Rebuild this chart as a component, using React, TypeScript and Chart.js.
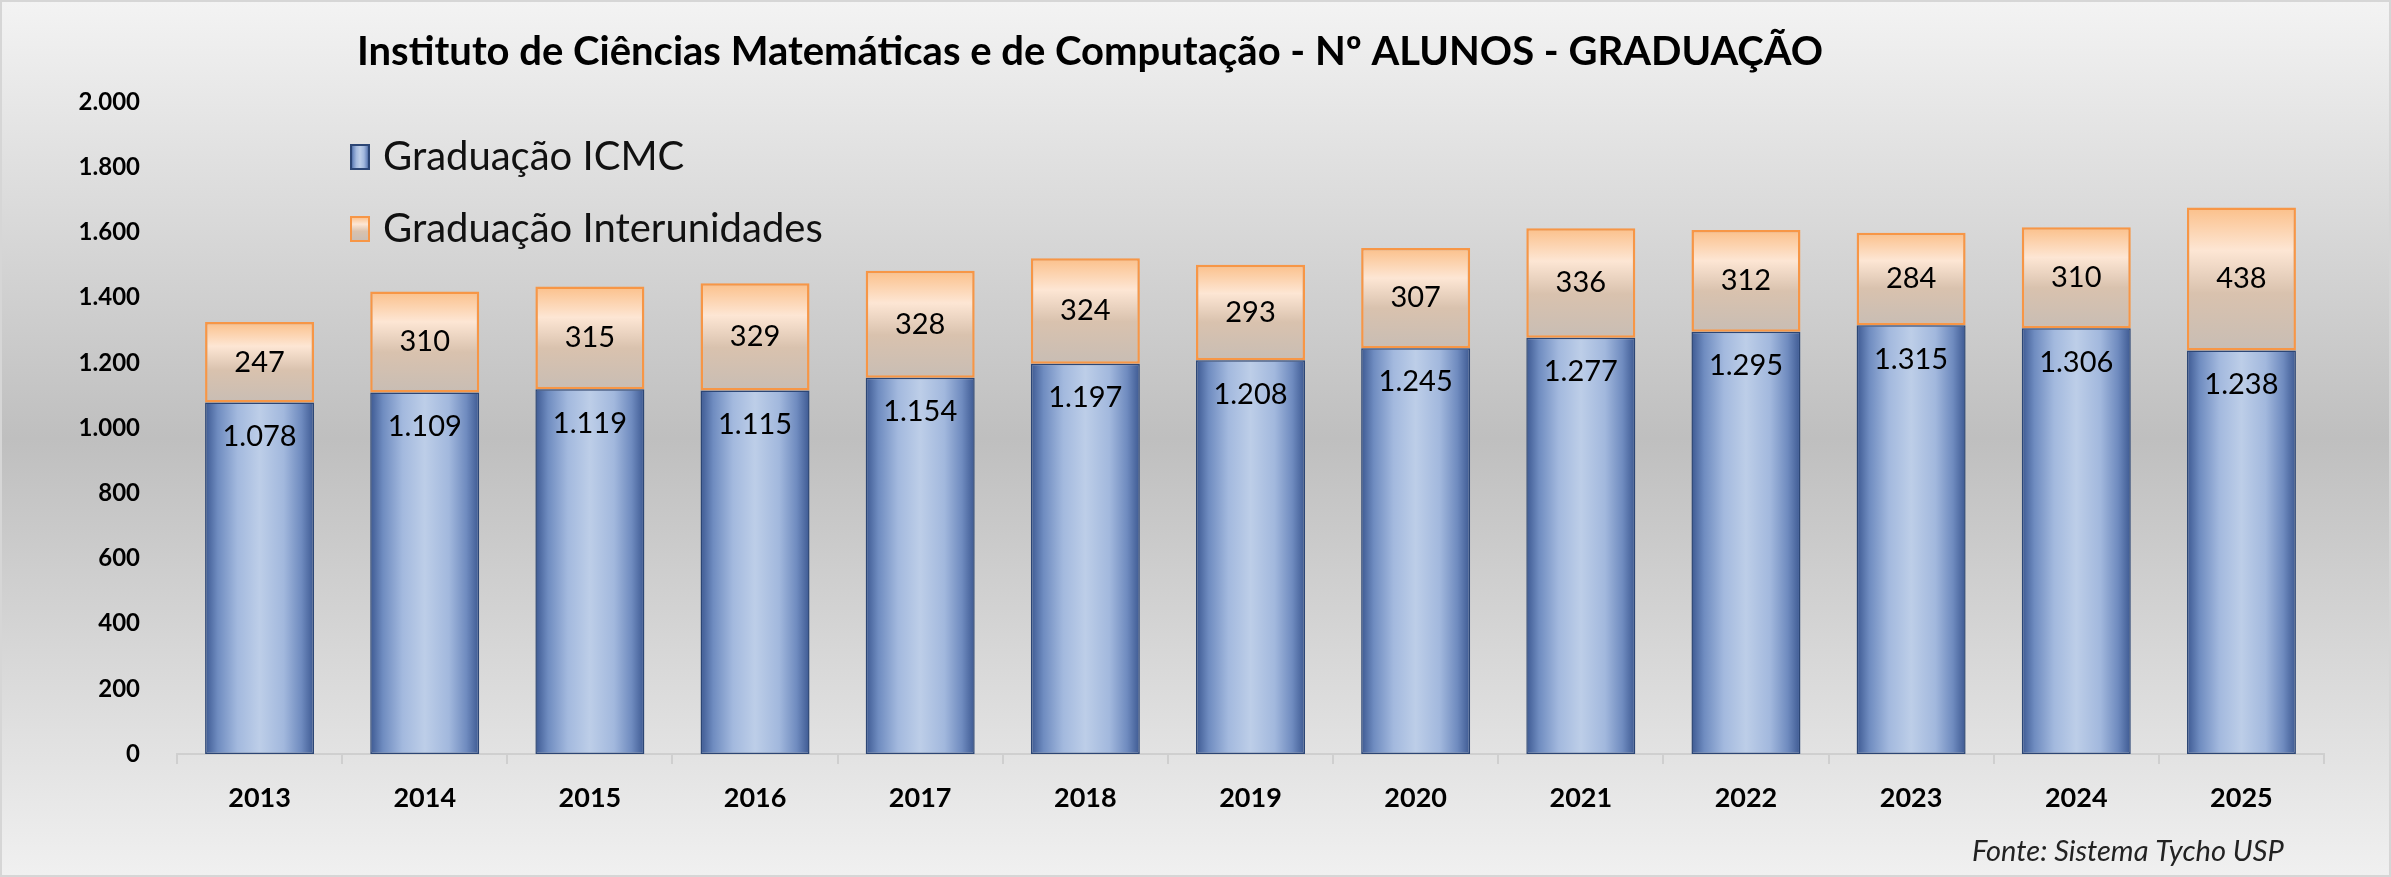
import { useEffect, useRef } from 'react';
import { Chart, registerables } from 'chart.js';

Chart.register(...registerables);

const years = ['2013', '2014', '2015', '2016', '2017', '2018', '2019', '2020', '2021', '2022', '2023', '2024', '2025'];
const icmc = [1078, 1109, 1119, 1115, 1154, 1197, 1208, 1245, 1277, 1295, 1315, 1306, 1238];
const interunidades = [247, 310, 315, 329, 328, 324, 293, 307, 336, 312, 284, 310, 438];
const yTicks = [0, 200, 400, 600, 800, 1000, 1200, 1400, 1600, 1800, 2000];

const FONT = 'Lato, "Open Sans", sans-serif';
const TITLE = 'Instituto de Ciências Matemáticas e de Computação - Nº ALUNOS - GRADUAÇÃO';
const SOURCE = 'Fonte: Sistema Tycho USP';

const fmt = (v: number) => String(v).replace(/\B(?=(\d{3})+(?!\d))/g, '.');

function blueGradient(ctx: CanvasRenderingContext2D, x0: number, x1: number) {
  const g = ctx.createLinearGradient(x0, 0, x1, 0);
  g.addColorStop(0, '#3b5790');
  g.addColorStop(0.12, '#6f8cc0');
  g.addColorStop(0.3, '#a3b9de');
  g.addColorStop(0.5, '#bdcee8');
  g.addColorStop(0.72, '#a2b8dd');
  g.addColorStop(0.88, '#6f8bbf');
  g.addColorStop(1, '#3b5790');
  return g;
}

function orangeGradient(ctx: CanvasRenderingContext2D, y0: number, y1: number) {
  const g = ctx.createLinearGradient(0, y0, 0, y1);
  g.addColorStop(0, '#fbc08a');
  g.addColorStop(0.3, '#fde6d4');
  g.addColorStop(0.6, '#d9c2ae');
  g.addColorStop(1, '#c8bdb4');
  return g;
}

const backgroundPlugin = {
  id: 'bg',
  beforeDraw(chart: Chart) {
    const { ctx, width, height } = chart;
    const g = ctx.createLinearGradient(0, 0, 0, height);
    g.addColorStop(0, '#f3f3f3');
    g.addColorStop(0.5, '#bfbfbf');
    g.addColorStop(1, '#f0f0f0');
    ctx.save();
    ctx.fillStyle = g;
    ctx.fillRect(0, 0, width, height);
    ctx.restore();
  },
};

const decorPlugin = {
  id: 'decor',
  afterDatasetsDraw(chart: Chart) {
    const { ctx } = chart;
    ctx.save();
    ctx.fillStyle = '#000';
    ctx.textAlign = 'center';
    ctx.textBaseline = 'middle';
    ctx.font = `29px ${FONT}`;
    const m0 = chart.getDatasetMeta(0);
    const m1 = chart.getDatasetMeta(1);
    m0.data.forEach((el: any, i: number) => {
      ctx.fillText(fmt(icmc[i]), el.x, el.y + 34);
    });
    m1.data.forEach((el: any, i: number) => {
      ctx.fillText(fmt(interunidades[i]), el.x, (el.y + el.base) / 2);
    });

    // title
    ctx.font = `bold 40px ${FONT}`;
    ctx.fillText(TITLE, 1088, 50);

    // legend
    const items = [
      { label: chart.data.datasets[0].label as string, y: 155, kind: 0 },
      { label: chart.data.datasets[1].label as string, y: 227, kind: 1 },
    ];
    items.forEach((it) => {
      const x = 349, w = 18, h = 24, top = it.y - h / 2;
      ctx.fillStyle = it.kind === 0 ? blueGradient(ctx, x, x + w) : orangeGradient(ctx, top, top + h);
      ctx.fillRect(x, top, w, h);
      ctx.lineWidth = 2;
      ctx.strokeStyle = it.kind === 0 ? '#2c4675' : '#f79646';
      ctx.strokeRect(x, top, w, h);
      ctx.fillStyle = '#111';
      ctx.textAlign = 'left';
      ctx.font = `40px ${FONT}`;
      ctx.fillText(it.label, 381, it.y);
    });

    // source
    ctx.font = `italic 29px ${FONT}`;
    ctx.textAlign = 'left';
    ctx.fillStyle = '#222';
    ctx.fillText(SOURCE, 1970, 850);
    ctx.restore();
  },
};

export default function App() {
  const canvasRef = useRef<HTMLCanvasElement>(null);
  const chartRef = useRef<Chart | null>(null);

  useEffect(() => {
    document.body.style.margin = '0';
    if (!canvasRef.current) return;
    const ctx = canvasRef.current.getContext('2d');
    if (!ctx) return;
    if (chartRef.current) chartRef.current.destroy();

    const barWidth = (c: any) => {
      const ch = c.chart as Chart;
      const el = ch.getDatasetMeta(c.datasetIndex).data[c.dataIndex] as any;
      return el ? el.width : 0;
    };

    chartRef.current = new Chart(ctx, {
      type: 'bar',
      data: {
        labels: years,
        datasets: [
          {
            label: 'Graduação ICMC',
            data: icmc,
            categoryPercentage: 1,
            barPercentage: 0.66,
            backgroundColor: (c: any) => {
              const ch = c.chart as Chart;
              if (!ch.chartArea || !ch.scales.x) return '#8fa8d2';
              const x = ch.scales.x.getPixelForValue(c.dataIndex);
              const w = barWidth(c) || 110;
              return blueGradient(ch.ctx, x - w / 2, x + w / 2);
            },
            borderColor: '#2c4675',
            borderWidth: 1.5,
            borderSkipped: false,
          },
          {
            label: 'Graduação Interunidades',
            data: interunidades,
            categoryPercentage: 1,
            barPercentage: 0.66,
            backgroundColor: (c: any) => {
              const ch = c.chart as Chart;
              if (!ch.chartArea || !ch.scales.y) return '#f3d2b4';
              const i = c.dataIndex;
              const y0 = ch.scales.y.getPixelForValue(icmc[i] + interunidades[i]);
              const y1 = ch.scales.y.getPixelForValue(icmc[i]);
              return orangeGradient(ch.ctx, y0, y1);
            },
            borderColor: '#f79646',
            borderWidth: 2.5,
            borderSkipped: false,
          },
        ],
      },
      options: {
        responsive: false,
        animation: false,
        layout: { padding: { top: 100, right: 65, left: 0, bottom: 0 } },
        plugins: {
          legend: { display: false },
          title: { display: false },
          tooltip: { enabled: false },
        },
        scales: {
          x: {
            stacked: true,
            afterFit: (s: any) => { s.height = 121; },
            grid: {
              display: true,
              drawOnChartArea: false,
              drawTicks: true,
              tickLength: 10,
              color: '#cfcfcf',
              lineWidth: 2,
              offset: true,
            },
            border: { display: true, color: '#cfcfcf', width: 2 },
            ticks: {
              padding: 18,
              color: '#000',
              font: { family: FONT, size: 27, weight: 'bold' },
            },
          } as any,
          y: {
            stacked: true,
            min: 0,
            max: 2000,
            afterFit: (s: any) => { s.width = 175; },
            afterBuildTicks: (s: any) => { s.ticks = yTicks.map((v) => ({ value: v })); },
            grid: { display: false, drawTicks: false },
            border: { display: false },
            ticks: {
              padding: 37,
              color: '#000',
              font: { family: FONT, size: 24, weight: 'bold' },
              callback: (v: any) => fmt(Number(v)),
            },
          } as any,
        },
      },
      plugins: [backgroundPlugin, decorPlugin],
    });

    return () => {
      if (chartRef.current) {
        chartRef.current.destroy();
        chartRef.current = null;
      }
    };
  }, []);

  return (
    <div style={{ position: 'relative', width: 2391, height: 877, boxSizing: 'border-box', border: '2px solid #d6d6d6', overflow: 'hidden' }}>
      <canvas ref={canvasRef} width={2387} height={873} style={{ display: 'block' }} />
    </div>
  );
}
